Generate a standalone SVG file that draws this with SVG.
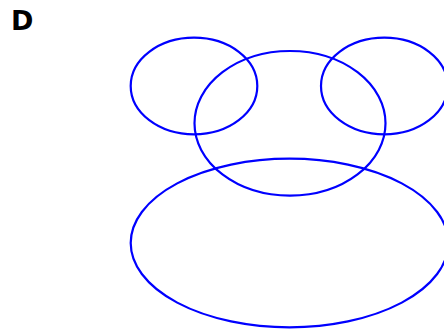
<svg xmlns="http://www.w3.org/2000/svg" width="444" height="329" viewBox="0 0 444 329">
<style>
.e{fill:none;stroke:#0000ff;stroke-width:2.2}
.lbl{font-family:"DejaVu Sans",sans-serif;font-weight:bold;font-size:27px;fill:#000}
</style>
<rect width="444" height="329" fill="#fff"/>
<text class="lbl" x="11" y="30.3">D</text>
<g id="ellipse-top-left"><ellipse class="e" cx="194" cy="86" rx="63.3" ry="48.3"/></g>
<g id="ellipse-top-right"><ellipse class="e" cx="384.3" cy="86" rx="63.3" ry="48.3"/></g>
<g id="ellipse-middle"><ellipse class="e" cx="290" cy="123.3" rx="95.5" ry="72.3"/></g>
<g id="ellipse-bottom"><ellipse class="e" cx="289.5" cy="243" rx="158.8" ry="84.3"/></g>
</svg>
